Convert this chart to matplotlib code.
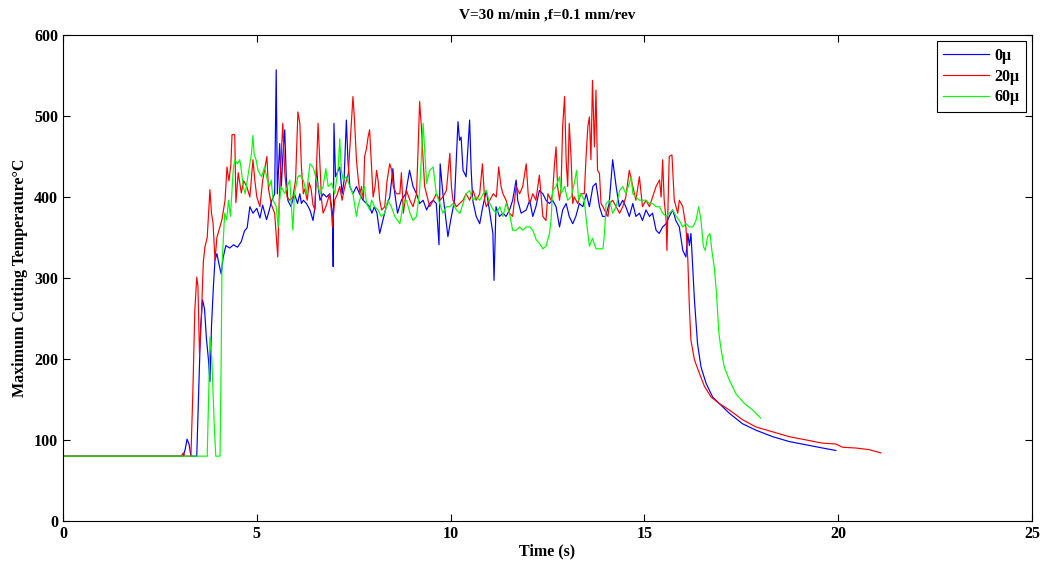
import matplotlib
matplotlib.use("Agg")
import matplotlib.pyplot as plt

# Time (s) and maximum cutting temperature (°C)
t_0 = [0.0, 3.10, 3.15, 3.20, 3.25, 3.30, 3.45, 3.50, 3.55, 3.60, 3.65, 3.70, 3.75, 3.79, 3.83, 3.88,
       3.92, 3.97, 4.02, 4.08, 4.13, 4.20, 4.30, 4.40, 4.50, 4.60, 4.68, 4.75, 4.82, 4.90, 5.00, 5.08,
       5.15, 5.25, 5.30, 5.38, 5.46, 5.50, 5.53, 5.59, 5.63, 5.67, 5.72, 5.76, 5.80, 5.88, 5.97, 6.05,
       6.11, 6.15, 6.20, 6.28, 6.37, 6.45, 6.50, 6.54, 6.58, 6.63, 6.71, 6.80, 6.88, 6.95, 6.97, 6.99,
       7.03, 7.10, 7.14, 7.20, 7.25, 7.31, 7.35, 7.40, 7.48, 7.57, 7.65, 7.74, 7.83, 7.91, 7.97, 8.03,
       8.10, 8.17, 8.25, 8.34, 8.43, 8.51, 8.55, 8.63, 8.73, 8.84, 8.94, 9.03, 9.12, 9.20, 9.29, 9.38,
       9.46, 9.55, 9.63, 9.70, 9.73, 9.80, 9.93, 10.00, 10.10, 10.19, 10.23, 10.27, 10.32, 10.40, 10.49,
       10.53, 10.57, 10.66, 10.75, 10.83, 10.92, 11.00, 11.09, 11.12, 11.17, 11.26, 11.35, 11.43, 11.52,
       11.60, 11.69, 11.73, 11.82, 11.95, 12.04, 12.12, 12.20, 12.29, 12.38, 12.46, 12.55, 12.63, 12.72,
       12.81, 12.89, 12.98, 13.06, 13.15, 13.23, 13.32, 13.41, 13.50, 13.58, 13.67, 13.75, 13.84, 13.92,
       14.00, 14.09, 14.18, 14.27, 14.35, 14.44, 14.52, 14.61, 14.70, 14.78, 14.87, 14.95, 15.04, 15.13,
       15.21, 15.30, 15.38, 15.47, 15.56, 15.64, 15.73, 15.81, 15.90, 15.99, 16.07, 16.12, 16.16, 16.20,
       16.25, 16.29, 16.33, 16.37, 16.46, 16.59, 16.76, 16.93, 17.19, 17.53, 17.88, 18.31, 18.74, 19.17,
       19.60, 19.94]
temp_0 = [80, 80, 88, 101, 95, 80, 80, 160, 240, 273, 262, 225, 200, 172, 240, 290,
          322, 330, 318, 305, 325, 340, 337, 341, 338, 345, 358, 362, 388, 380, 386, 374,
          390, 372, 380, 395, 404, 557, 404, 466, 410, 450, 483, 425, 396, 388, 404, 392,
          404, 392, 396, 392, 384, 371, 388, 437, 413, 396, 404, 400, 404, 380, 314, 491,
          425, 433, 437, 404, 420, 495, 446, 413, 404, 413, 404, 396, 392, 388, 380, 388,
          380, 355, 371, 388, 400, 435, 408, 380, 396, 404, 433, 413, 404, 392, 396, 384,
          392, 396, 392, 341, 441, 404, 351, 371, 396, 493, 470, 474, 433, 425, 495,
          433, 396, 376, 367, 388, 408, 384, 355, 297, 388, 376, 380, 376, 384,
          396, 421, 396, 380, 384, 396, 376, 388, 408, 404, 396, 392, 396, 388,
          363, 384, 392, 376, 367, 376, 392, 388, 404, 388, 413, 417, 388, 376,
          376, 392, 446, 413, 388, 396, 388, 376, 392, 376, 380, 371, 384, 376,
          380, 359, 355, 363, 367, 376, 384, 371, 363, 334, 326, 355, 340, 355,
          310, 273, 245, 219, 190, 170, 153, 145, 133, 120, 112, 104, 98, 94,
          90, 87]

t_20 = [0.0, 3.05, 3.10, 3.15, 3.30, 3.35, 3.40, 3.45, 3.48, 3.52, 3.56, 3.62, 3.66, 3.72, 3.79, 3.83,
        3.87, 3.92, 3.97, 4.03, 4.10, 4.18, 4.23, 4.28, 4.33, 4.36, 4.43, 4.46, 4.52, 4.60, 4.66, 4.74,
        4.82, 4.90, 4.95, 5.00, 5.08, 5.15, 5.26, 5.30, 5.38, 5.46, 5.54, 5.58, 5.67, 5.72, 5.78, 5.85,
        5.93, 6.00, 6.06, 6.11, 6.15, 6.20, 6.24, 6.30, 6.35, 6.40, 6.45, 6.50, 6.58, 6.62, 6.67, 6.71,
        6.78, 6.88, 6.93, 6.95, 7.01, 7.08, 7.14, 7.20, 7.27, 7.36, 7.44, 7.48, 7.52, 7.57, 7.61, 7.66,
        7.70, 7.75, 7.78, 7.83, 7.87, 7.91, 7.95, 8.00, 8.05, 8.09, 8.13, 8.17, 8.22, 8.30, 8.36, 8.43,
        8.48, 8.52, 8.60, 8.69, 8.73, 8.78, 8.86, 8.95, 9.03, 9.12, 9.16, 9.20, 9.25, 9.29, 9.33, 9.42,
        9.46, 9.55, 9.63, 9.72, 9.80, 9.89, 9.98, 10.02, 10.06, 10.15, 10.23, 10.32, 10.40, 10.49, 10.58,
        10.66, 10.75, 10.82, 10.88, 10.92, 11.01, 11.10, 11.18, 11.24, 11.30, 11.35, 11.43, 11.52, 11.60,
        11.69, 11.78, 11.86, 11.95, 12.00, 12.04, 12.12, 12.20, 12.29, 12.33, 12.38, 12.46, 12.51, 12.59,
        12.63, 12.68, 12.72, 12.76, 12.81, 12.85, 12.89, 12.94, 12.98, 13.02, 13.06, 13.11, 13.15, 13.19,
        13.28, 13.36, 13.45, 13.49, 13.54, 13.58, 13.62, 13.66, 13.71, 13.75, 13.79, 13.84, 13.88, 13.93,
        14.01, 14.06, 14.10, 14.18, 14.27, 14.36, 14.44, 14.52, 14.61, 14.70, 14.78, 14.87, 14.95, 15.04,
        15.13, 15.21, 15.30, 15.39, 15.43, 15.47, 15.51, 15.56, 15.58, 15.64, 15.71, 15.77, 15.86, 15.90,
        15.99, 16.07, 16.12, 16.16, 16.20, 16.29, 16.42, 16.55, 16.72, 16.93, 17.19, 17.53, 17.88, 18.31,
        18.74, 19.17, 19.60, 19.94, 20.11, 20.46, 20.80, 21.10]
temp_20 = [80, 80, 84, 80, 80, 160, 260, 301, 290, 207, 240, 320, 338, 350, 409, 380,
           368, 322, 350, 360, 372, 396, 437, 420, 440, 477, 477, 393, 430, 405, 420, 413,
           400, 446, 420, 400, 388, 420, 450, 410, 390, 380, 326, 400, 491, 430, 400, 396,
           400, 421, 505, 491, 437, 404, 410, 396, 418, 410, 390, 384, 491, 450, 396, 380,
           388, 404, 380, 363, 396, 404, 413, 396, 413, 429, 491, 524, 495, 446, 425, 404,
           413, 396, 450, 460, 474, 483, 446, 400, 413, 433, 420, 396, 384, 388, 420, 441,
           433, 413, 404, 404, 430, 380, 408, 396, 388, 404, 458, 518, 483, 446, 413, 396,
           388, 396, 404, 396, 400, 408, 454, 413, 396, 388, 392, 396, 404, 396, 408,
           396, 404, 441, 396, 388, 396, 404, 400, 437, 413, 404, 396, 380, 376,
           413, 404, 413, 441, 404, 392, 404, 396, 427, 404, 376, 371, 404, 396,
           404, 441, 462, 413, 396, 413, 487, 524, 446, 413, 491, 446, 392, 400,
           392, 404, 404, 446, 487, 499, 446, 544, 462, 532, 433, 429, 392, 388,
           380, 376, 392, 396, 388, 380, 388, 400, 433, 413, 396, 425, 388, 396,
           388, 400, 413, 421, 400, 446, 396, 371, 334, 450, 452, 396, 380, 396,
           388, 363, 322, 264, 223, 199, 182, 166, 153, 145, 137, 125, 116, 110,
           104, 100, 96, 95, 91, 90, 88, 84]

t_60 = [0.0, 3.72, 3.76, 3.79, 3.84, 3.90, 3.94, 4.05, 4.08, 4.10, 4.17, 4.22, 4.27, 4.32, 4.39, 4.43,
        4.50, 4.56, 4.60, 4.65, 4.70, 4.78, 4.82, 4.86, 4.90, 4.93, 4.98, 5.03, 5.12, 5.20, 5.27, 5.33,
        5.37, 5.42, 5.50, 5.55, 5.59, 5.63, 5.72, 5.85, 5.93, 5.97, 6.06, 6.11, 6.20, 6.28, 6.37, 6.45,
        6.54, 6.63, 6.71, 6.78, 6.84, 6.93, 7.01, 7.10, 7.14, 7.18, 7.23, 7.31, 7.40, 7.48, 7.57, 7.61,
        7.70, 7.78, 7.83, 7.91, 7.96, 8.04, 8.13, 8.21, 8.30, 8.38, 8.47, 8.56, 8.69, 8.78, 8.86, 8.95,
        9.03, 9.12, 9.20, 9.29, 9.33, 9.38, 9.46, 9.55, 9.63, 9.72, 9.80, 9.89, 9.98, 10.06, 10.15, 10.24,
        10.32, 10.40, 10.49, 10.58, 10.66, 10.75, 10.84, 10.92, 11.01, 11.10, 11.18, 11.27, 11.35, 11.43,
        11.52, 11.60, 11.69, 11.78, 11.86, 11.95, 12.04, 12.12, 12.21, 12.29, 12.38, 12.46, 12.55, 12.59,
        12.63, 12.72, 12.81, 12.85, 12.94, 13.02, 13.11, 13.19, 13.25, 13.30, 13.36, 13.45, 13.49, 13.54,
        13.58, 13.66, 13.75, 13.84, 13.93, 13.97, 14.01, 14.10, 14.18, 14.27, 14.36, 14.44, 14.52, 14.61,
        14.66, 14.70, 14.78, 14.87, 14.96, 15.04, 15.13, 15.21, 15.30, 15.39, 15.47, 15.56, 15.64, 15.73,
        15.82, 15.90, 15.99, 16.07, 16.16, 16.25, 16.33, 16.40, 16.46, 16.52, 16.57, 16.63, 16.69, 16.74,
        16.80, 16.86, 16.92, 16.98, 17.06, 17.19, 17.36, 17.58, 17.79, 18.00]
temp_60 = [80, 80, 160, 227, 200, 120, 80, 80, 200, 314, 380, 372, 396, 376, 433, 446,
           441, 446, 433, 413, 404, 429, 441, 453, 476, 453, 446, 433, 425, 437, 421, 413,
           421, 396, 388, 363, 396, 413, 404, 421, 359, 404, 425, 427, 421, 404, 441, 437,
           421, 404, 413, 435, 413, 417, 404, 437, 472, 433, 421, 425, 413, 404, 376, 388,
           404, 413, 392, 384, 396, 388, 384, 376, 380, 396, 388, 376, 367, 392, 396, 380,
           371, 376, 408, 491, 458, 417, 433, 437, 404, 392, 380, 388, 388, 392, 384, 380,
           392, 404, 408, 396, 400, 396, 404, 408, 392, 384, 380, 388, 376, 392,
           380, 359, 359, 363, 359, 363, 363, 359, 347, 343, 336, 339, 355, 371,
           408, 413, 425, 404, 413, 396, 400, 417, 433, 396, 404, 396, 376, 355,
           339, 349, 336, 336, 336, 355, 392, 396, 380, 388, 408, 413, 404, 417,
           425, 404, 400, 396, 396, 396, 392, 392, 388, 388, 380, 376, 380, 384,
           376, 371, 363, 367, 363, 363, 371, 388, 371, 339, 334, 351, 355, 334,
           314, 281, 232, 211, 190, 174, 157, 145, 137, 127]

labels = ["0\u03bc", "20\u03bc", "60\u03bc"]
colors = ["#0000ff", "#ff0000", "#00ff00"]

plt.rcParams['font.family'] = ['Liberation Serif', 'DejaVu Serif']
plt.rcParams['font.weight'] = 'bold'

fig = plt.figure(figsize=(10.47, 5.65), dpi=100)
ax = fig.add_axes([0.0602, 0.078, 0.9255, 0.86])

for t, temp, lab, col in zip([t_0, t_20, t_60], [temp_0, temp_20, temp_60], labels, colors):
    ax.plot(t, temp, color=col, linewidth=0.85, label=lab)

ax.set_xlim(0, 25)
ax.set_ylim(0, 600)
ax.set_xticks([0, 5, 10, 15, 20, 25])
ax.set_yticks([0, 100, 200, 300, 400, 500, 600])
ax.tick_params(direction='in', top=True, right=True, length=5, width=0.8, labelsize=11.5)
for lbl in ax.get_xticklabels() + ax.get_yticklabels():
    lbl.set_fontweight('bold')
for sp in ax.spines.values():
    sp.set_linewidth(0.8)

ax.set_title("V=30 m/min ,f=0.1 mm/rev", fontsize=11, fontweight='bold', pad=12)
ax.set_xlabel("Time (s)", fontsize=11.5, fontweight='bold', labelpad=1)
ax.set_ylabel("Maximum Cutting Temperature\u00b0C", fontsize=11.5, fontweight='bold', labelpad=4)

leg = ax.legend(loc='upper right', fancybox=False, edgecolor='black',
                framealpha=1, borderaxespad=0.4, handlelength=2.9, labelspacing=0.3,
                borderpad=0.4, handletextpad=0.3, prop={'weight': 'bold', 'size': 11.5})
leg.get_frame().set_linewidth(0.8)

fig.savefig("out.png", dpi=100)
